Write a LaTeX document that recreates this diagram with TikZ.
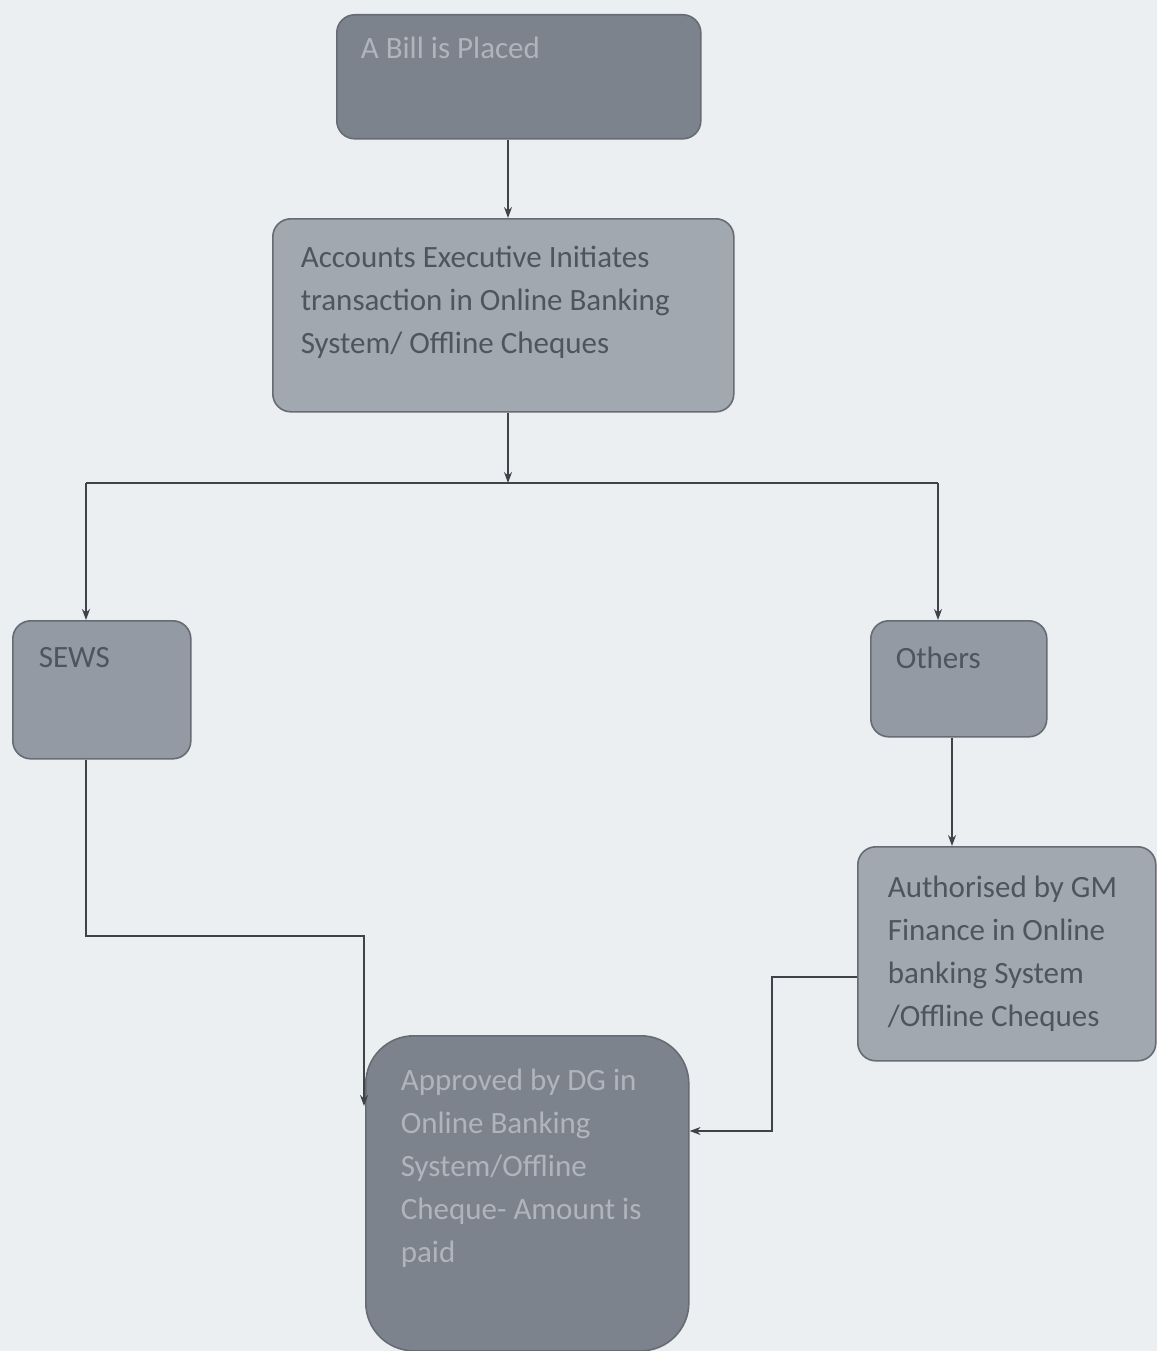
\documentclass[tikz,border=0pt]{standalone}
\usepackage{fontspec}
\setmainfont{Carlito}
\usetikzlibrary{arrows.meta}
\definecolor{bg}{HTML}{ECEFF2}
\definecolor{edge}{HTML}{676C74}
\definecolor{fdark}{HTML}{7C838D}
\definecolor{flight}{HTML}{A2A8B0}
\definecolor{fmid}{HTML}{939AA3}
\definecolor{tdark}{HTML}{4F555D}
\definecolor{tpale}{HTML}{B0B5BC}
\definecolor{wire}{HTML}{3F4247}
\newcommand{\bxt}[5]{\parbox[c][#2][t]{#1}{\vspace*{#3}\raggedright\leftskip=#4\relax\fontsize{31}{43}\selectfont #5\par}}
\tikzset{
  x=1pt,y=-1pt,
  card/.style={draw=edge,line width=1.6pt,rounded corners=18pt,inner sep=0pt,text=tdark},
  link/.style={draw=wire,line width=1.3pt,-{Stealth[length=11pt,width=8pt]}},
  plain/.style={draw=wire,line width=1.3pt}
}
\begin{document}
\begin{tikzpicture}
\useasboundingbox (0,0) rectangle (1157,1351);
\fill[bg] (0,0) rectangle (1157,1351);

\node[card,fill=fdark,text=tpale,anchor=north west] (bill) at (336,14)
  {\bxt{364pt}{124pt}{22pt}{24pt}{A Bill is Placed}};
\node[card,fill=flight,anchor=north west] (acc) at (272,218)
  {\bxt{461pt}{193pt}{27pt}{28pt}{Accounts Executive Initiates\\ transaction in Online Banking\\ System/ Offline Cheques}};
\node[card,fill=fmid,anchor=north west] (sews) at (12,620)
  {\bxt{178pt}{138pt}{27pt}{26pt}{SEWS}};
\node[card,fill=fmid,anchor=north west] (oth) at (870,620)
  {\bxt{176pt}{116pt}{26pt}{25pt}{Others}};
\node[card,fill=flight,anchor=north west] (auth) at (857,846)
  {\bxt{298pt}{214pt}{29pt}{30pt}{Authorised by GM\\ Finance in Online\\ banking System\\ /Offline Cheques}};
\node[card,fill=fdark,text=tpale,rounded corners=48pt,anchor=north west] (appr) at (365,1035)
  {\bxt{323pt}{315pt}{33pt}{35pt}{Approved by DG in\\ Online Banking\\ System/Offline\\ Cheque- Amount is\\ paid}};

\coordinate (split) at (508,483);
\coordinate (sl) at (86,483);
\coordinate (sr) at (938,483);
\coordinate (s1) at (86,936);
\coordinate (s2) at (364,936);
\coordinate (s3) at (364,1106);
\coordinate (a1) at (772,977);
\coordinate (a2) at (772,1131);

\draw[link] (bill.south -| 508,0) -- (acc.north -| 508,0);
\draw[link] (acc.south -| 508,0) -- (split);
\draw[plain] (sl) -- (sr);
\draw[link] (sl) -- (sews.north -| sl);
\draw[link] (sr) -- (oth.north -| sr);
\draw[link] (oth.south -| 952,0) -- (auth.north -| 952,0);
\draw[link] (sews.south -| s1) -- (s1) -- (s2) -- (s3);
\draw[link] (auth.west |- a1) -- (a1) -- (a2) -- (appr.east |- a2);
\end{tikzpicture}
\end{document}
